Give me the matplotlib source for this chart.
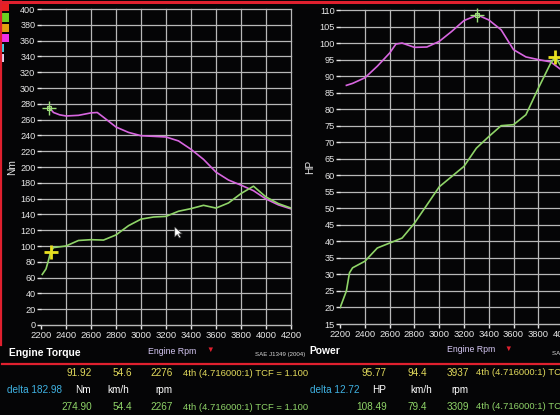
import matplotlib
matplotlib.use("Agg")
import matplotlib.pyplot as plt
from matplotlib.lines import Line2D
from matplotlib.patches import Rectangle, Polygon

plt.rcParams['font.family'] = ['Liberation Sans', 'DejaVu Sans']

# ---------------- data ----------------
torque_rpm_a = [2267, 2300, 2350, 2400, 2500, 2600, 2650, 2700, 2800, 2900, 3000, 3100, 3200,
                3300, 3400, 3500, 3600, 3700, 3800, 3900, 4000, 4100, 4200]
torque_nm_a = [275, 269, 266, 264.6, 265.4, 268.5, 269, 263, 250.6, 243.8, 239.6, 238.8, 238,
               233, 222.4, 209.7, 193.5, 183.5, 177, 170, 159.5, 152, 147]

torque_rpm_b = [2210, 2240, 2260, 2276, 2300, 2400, 2500, 2600, 2700, 2800, 2900, 3000,
                3100, 3200, 3300, 3400, 3500, 3600, 3700, 3800, 3900, 4000, 4100, 4200]
torque_nm_b = [64, 71, 82, 92, 98, 100, 107, 108, 107.5, 114, 125.7, 134,
               136.7, 137.5, 144, 147.3, 151.5, 148, 154.5, 166.4, 175.7, 162, 153.6, 148]

power_rpm_a = [2250, 2300, 2400, 2500, 2600, 2650, 2700, 2800, 2900, 3000, 3100, 3200,
               3309, 3400, 3500, 3600, 3700, 3800, 3900, 4000, 4100, 4200]
power_hp_a = [87.2, 87.8, 89.5, 93, 97, 99.7, 100, 98.7, 98.8, 100.5, 103.5, 106.8,
              108.5, 107, 104, 98, 95.8, 95, 94.3, 91.5, 88, 85]

power_rpm_b = [2200, 2250, 2275, 2300, 2400, 2500, 2600, 2700, 2800, 2900, 3000, 3100,
               3200, 3300, 3400, 3500, 3600, 3700, 3800, 3900, 3937, 4000, 4100, 4200]
power_hp_b = [20, 25, 30.5, 32, 34, 38, 39.5, 41, 45.5, 51, 56.5, 59.6,
              62.7, 68.2, 71.7, 75, 75.3, 78.3, 86.3, 93.9, 95.77, 92, 88.5, 85.5]

# cursor read-outs
torque_cur_yellow = (2276, 91.92)
torque_cur_green = (2267, 274.90)
power_cur_yellow = (3937, 95.77)
power_cur_green = (3309, 108.49)
mouse_pointer = (3270, 124)

rpm_ticks = list(range(2200, 4201, 200))
nm_ticks = list(range(0, 401, 20))
hp_ticks = list(range(15, 111, 5))

torque_row1 = ["91.92", "54.6", "2276", "4th (4.716000:1) TCF = 1.100"]
torque_row3 = ["274.90", "54.4", "2267", "4th (4.716000:1) TCF = 1.100"]
torque_units = ["Nm", "km/h", "rpm"]
torque_delta = "delta 182.98"
power_row1 = ["95.77", "94.4", "3937", "4th (4.716000:1) TCF = 1.100"]
power_row3 = ["108.49", "79.4", "3309", "4th (4.716000:1) TCF = 1.100"]
power_units = ["HP", "km/h", "rpm"]
power_delta = "delta 12.72"

# ---------------- style ----------------
W, H = 560, 415
BG = '#050506'
GRID = '#b8b8b8'
TXT = '#e6e6e6'
MAG = '#d866e0'
GRN = '#8fd468'
YEL = '#e2da5c'
CYAN = '#3fb2e2'
LAV = '#d4c6f2'
RED = '#e0202e'

fig = plt.figure(figsize=(W / 100, H / 100), dpi=100, facecolor=BG)


def fx(x):
    return x / W


def fy(y):
    return 1 - y / H


def style_axes(ax, xt, yt):
    ax.set_facecolor(BG)
    for s in ['left', 'right', 'top']:
        ax.spines[s].set_visible(False)
    ax.spines['bottom'].set_color(GRID)
    ax.spines['bottom'].set_linewidth(1.0)
    ax.set_xticks(xt)
    ax.set_yticks(yt)
    ax.tick_params(axis='y', colors=TXT, length=3, width=1.0, pad=1, labelsize=6.6)
    ax.tick_params(axis='x', colors=TXT, length=3, width=1.0, pad=1.5, labelsize=6.8)
    for v in xt[1:]:
        ax.axvline(v, color=GRID, lw=0.9, zorder=1, clip_on=False)
    for v in yt[1:]:
        ax.axhline(v, color=GRID, lw=0.9, zorder=1, clip_on=False)


# torque panel
axL = fig.add_axes([fx(41), 1 - 325 / H, 250 / W, 316 / H])
axL.set_xlim(2200, 4200)
axL.set_ylim(0, 400)
style_axes(axL, rpm_ticks, nm_ticks)
axL.plot(torque_rpm_a, torque_nm_a, color=MAG, lw=1.2, zorder=3, solid_joinstyle='round')
axL.plot(torque_rpm_b, torque_nm_b, color=GRN, lw=1.2, zorder=3, solid_joinstyle='round')
axL.plot(*torque_cur_green, marker='+', ms=10, mew=1.0, color='#9ee07a', zorder=5, clip_on=False)
axL.plot(*torque_cur_green, marker='s', ms=2.5, mew=0.8, mfc='none', color='#9ee07a', zorder=5)
axL.plot(*torque_cur_yellow, marker='+', ms=10, mew=2.0, color='#e8e020', zorder=5)

# mouse pointer (screen decoration), drawn in pixel units from its tip
px0, py0 = axL.transData.transform(mouse_pointer)
arrow = [(0, 0), (0, -10), (2.5, -7.5), (4.5, -11), (6, -10), (4, -6.8), (7.5, -6.8)]
inv = fig.transFigure.inverted()
pts = [inv.transform((px0 + dx, py0 + dy)) for dx, dy in arrow]
fig.add_artist(Polygon(pts, closed=True, facecolor='white', edgecolor='#404040', lw=0.5,
                       transform=fig.transFigure, zorder=6))

# power panel (runs off the right edge of the picture)
axR = fig.add_axes([fx(340.2), 1 - 324 / H, 247.6 / W, 314 / H])
axR.set_xlim(2200, 4200)
axR.set_ylim(15, 110)
style_axes(axR, rpm_ticks, hp_ticks)
axR.plot(power_rpm_a, power_hp_a, color=MAG, lw=1.2, zorder=3, solid_joinstyle='round')
axR.plot(power_rpm_b, power_hp_b, color=GRN, lw=1.2, zorder=3, solid_joinstyle='round')
axR.plot(*power_cur_green, marker='+', ms=10, mew=1.0, color='#9ee07a', zorder=5, clip_on=False)
axR.plot(*power_cur_green, marker='s', ms=2.5, mew=0.8, mfc='none', color='#9ee07a', zorder=5)
axR.plot(*power_cur_yellow, marker='+', ms=10, mew=2.0, color='#e8e020', zorder=5)

# axis labels
fig.text(fx(12), fy(167), "Nm", rotation=90, color=TXT, fontsize=7.3, ha='center', va='center')
fig.text(fx(310), fy(167), "HP", rotation=90, color=TXT, fontsize=7.3, ha='center', va='center')

# red frame lines
fig.add_artist(Line2D([0, 1], [fy(2.5), fy(2.5)], color=RED, lw=2.2))
fig.add_artist(Line2D([fx(2), 1], [fy(363.5), fy(363.5)], color=RED, lw=1.6))
fig.add_artist(Line2D([fx(0.8), fx(0.8)], [fy(0), fy(345)], color=RED, lw=1.6))

# legend swatches
for (y0, y1, x0, x1, c) in [(1, 11, 0, 9, '#e82020'), (13, 22, 0, 9, '#6cd020'),
                            (24, 32, 0, 9, '#e0a010'), (34, 42, 0, 9, '#f030e8'),
                            (44, 52, 1, 3.5, '#40d0e8'), (54, 62, 1, 3.5, '#e0d0f0')]:
    fig.add_artist(Rectangle((fx(x0), fy(y1)), fx(x1 - x0), (y1 - y0) / H,
                             facecolor=c, edgecolor='none'))


# bottom read-outs
def t(x, y, s, **kw):
    kw.setdefault('va', 'center')
    kw.setdefault('fontsize', 7.2)
    fig.text(fx(x), fy(y), s, **kw)


def readout(x0, title, r1, units, delta, r3):
    t(x0 + 9, 352.5, title, color='white', fontweight='bold', fontsize=7.4)
    t(x0 + 148, 351, "Engine Rpm", color=LAV, fontsize=6.3)
    t(x0 + 210, 350, "\u25bc", color=RED, fontsize=5.5, ha='center')
    t(x0 + 255, 354.5, "SAE J1349 (2004)", color='#d8d8d8', fontsize=4.4)
    for row, y, col in [(r1, 373, YEL), (r3, 407, GRN)]:
        t(x0 + 92, y, row[0], color=col, ha='right')
        t(x0 + 132, y, row[1], color=col, ha='right')
        t(x0 + 173, y, row[2], color=col, ha='right')
        t(x0 + 183, y, row[3], color=col, fontsize=6.8)
    t(x0 + 7, 390, delta, color=CYAN)
    t(x0 + 83, 390, units[0], color='white', ha='center')
    t(x0 + 118, 390, units[1], color='white', ha='center')
    t(x0 + 164, 390, units[2], color='white', ha='center')


readout(0, "Engine Torque", torque_row1, torque_units, torque_delta, torque_row3)
fig.text(fx(309), fy(350.5), "Power", color='white', fontweight='bold', fontsize=7.4, va='center')
t(447, 349, "Engine Rpm", color=LAV, fontsize=6.3)
t(508, 349, "\u25bc", color=RED, fontsize=5.5, ha='center')
t(552, 353, "SAE J1349 (2004)", color='#d8d8d8', fontsize=4.4)
for row, y, col in [(power_row1, 372.5, YEL), (power_row3, 406.5, GRN)]:
    t(387, y, row[0], color=col, ha='right')
    t(427, y, row[1], color=col, ha='right')
    t(469, y, row[2], color=col, ha='right')
    t(476, y, row[3], color=col, fontsize=6.8)
t(310, 389.5, power_delta, color=CYAN)
t(379, 389.5, power_units[0], color='white', ha='center')
t(421, 389.5, power_units[1], color='white', ha='center')
t(460, 389.5, power_units[2], color='white', ha='center')

fig.savefig("out.png", dpi=100, facecolor=BG)
